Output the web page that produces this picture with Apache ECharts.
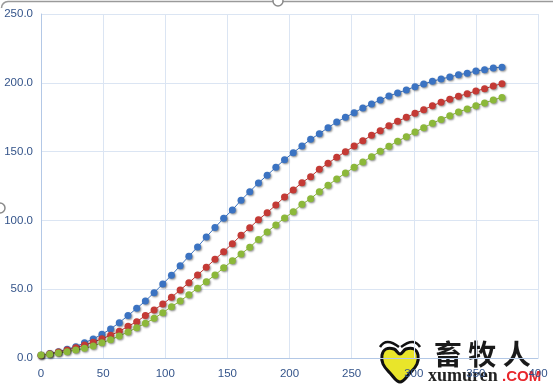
<!DOCTYPE html>
<html>
<head>
<meta charset="utf-8">
<script src="https://cdn.jsdelivr.net/npm/echarts@6/dist/echarts.min.js"></script>
<style>
html,body{margin:0;padding:0;background:#fff;}
#c{width:553px;height:389px;}
</style>
</head>
<body>
<div id="c"></div>
<script>
// x values: every 7 units from 0 to 371
const xValues = [0,7,14,21,28,35,42,49,56,63,70,77,84,91,98,105,112,119,126,133,140,147,154,161,168,175,182,189,196,203,210,217,224,231,238,245,252,259,266,273,280,287,294,301,308,315,322,329,336,343,350,357,364,371];
const blueValues = [2.0,3.2,4.6,6.3,8.2,11.1,13.8,17.2,21.1,25.7,30.8,36.1,41.4,47.5,53.8,60.1,67.1,73.9,80.7,87.9,94.8,101.5,107.6,114.6,120.9,127.2,132.8,138.6,144.1,149.2,154.1,158.9,163.0,167.4,171.5,174.9,178.3,181.7,184.6,187.5,190.4,192.6,194.8,197.2,199.1,201.1,202.8,204.2,205.9,206.9,208.6,209.5,210.8,211.3];
const redValues = [2.0,3.0,4.3,5.8,7.5,9.4,11.4,14.0,16.5,19.4,23.0,26.4,30.8,34.9,39.2,44.1,49.4,54.7,60.3,65.9,71.7,77.3,83.1,89.2,94.7,100.5,105.6,111.2,117.0,122.1,127.4,131.8,137.1,141.5,145.9,149.9,154.0,157.9,161.8,165.2,168.8,172.0,174.9,177.8,180.5,183.4,185.8,188.0,190.2,192.1,194.0,195.7,197.7,199.4];
const greenValues = [2.2,2.7,3.6,4.6,5.8,7.0,8.7,11.1,13.3,16.0,18.9,22.0,25.2,28.8,32.9,37.3,41.4,46.0,50.7,55.5,60.3,65.5,70.6,75.6,80.4,86.2,91.6,96.7,101.7,106.3,111.7,115.8,120.9,125.5,130.1,134.4,138.6,142.4,146.3,150.2,153.9,157.5,160.8,164.2,167.4,170.6,173.4,176.1,178.8,181.0,183.4,185.3,187.5,189.4];

const pair = (vals) => xValues.map((x, i) => [x, vals[i]]);

const chart = echarts.init(document.getElementById('c'), null, {renderer: 'canvas'});
const labelColor = '#34548a';
const gridColor = '#dbe5f3';

function mkSeries(vals, color) {
  return {
    type: 'line',
    data: pair(vals),
    symbol: 'circle',
    symbolSize: 7,
    lineStyle: {color: color, width: 1},
    itemStyle: {color: color, shadowBlur: 2, shadowColor: 'rgba(0,0,0,0.45)', shadowOffsetX: 1, shadowOffsetY: 1},
    animation: false
  };
}

chart.setOption({
  animation: false,
  grid: {left: 41, right: 15, top: 14, bottom: 31},
  xAxis: {
    type: 'value', min: 0, max: 400, interval: 50,
    axisLine: {show: true, lineStyle: {color: '#b3c8e6', width: 1}},
    axisTick: {show: false},
    splitLine: {show: true, lineStyle: {color: gridColor, width: 1}},
    axisLabel: {color: labelColor, fontFamily: 'Liberation Sans, Arial, sans-serif', fontSize: 11.5, margin: 10}
  },
  yAxis: {
    type: 'value', min: 0, max: 250, interval: 50,
    axisLine: {show: true, lineStyle: {color: '#b3c8e6', width: 1}},
    axisTick: {show: false},
    splitLine: {show: true, lineStyle: {color: gridColor, width: 1}},
    axisLabel: {color: labelColor, fontFamily: 'Liberation Sans, Arial, sans-serif', fontSize: 11.5, margin: 8,
      formatter: v => v.toFixed(1)}
  },
  series: [
    mkSeries(blueValues, '#3b73c2'),
    mkSeries(redValues, '#c43a35'),
    mkSeries(greenValues, '#8cb83a')
  ],
  graphic: [
    {type: 'line', shape: {x1: 8, y1: 1.5, x2: 553, y2: 1.5}, style: {stroke: '#9a9a9a', lineWidth: 1.5}, silent: true},
    {type: 'arc', shape: {cx: 8, cy: 8, r: 6.5, startAngle: Math.PI, endAngle: Math.PI*1.5}, style: {stroke: '#9a9a9a', lineWidth: 1.5, fill: null}},
    {type: 'circle', shape: {cx: 278, cy: 1, r: 5}, style: {stroke: '#8a8a8a', lineWidth: 1.5, fill: '#fff'}},
    {type: 'circle', shape: {cx: 0, cy: 208, r: 5}, style: {stroke: '#8a8a8a', lineWidth: 1.5, fill: '#fff'}},
    {type: 'polygon', shape: {points: [[400,354],[394,349],[386,349],[382,355],[383,364],[390,373],[400,382],[410,373],[417,364],[418,355],[414,349],[406,349]], smooth: 0.4},
      style: {fill: '#e9e52a', stroke: '#111', lineWidth: 3}},
    {type: 'bezierCurve', shape: {x1: 380, y1: 347, x2: 399, y2: 347, cpx1: 386, cpy1: 337}, style: {stroke: '#111', lineWidth: 2.5, fill: null}},
    {type: 'bezierCurve', shape: {x1: 401, y1: 347, x2: 420, y2: 347, cpx1: 414, cpy1: 337}, style: {stroke: '#111', lineWidth: 2.5, fill: null}},
    {type: 'text', left: 434, top: 340, style: {text: '畜 牧 人', font: 'bold 28px "Noto Sans CJK SC", sans-serif', fill: '#1a1a1a'}},
    {type: 'text', left: 428, top: 367, style: {text: 'xumuren', font: 'bold 18px "Liberation Serif", serif', fill: '#222'}},
    {type: 'text', left: 502, top: 369, style: {text: '.COM', font: 'bold 15px "Liberation Sans", sans-serif', fill: '#e8262b'}}
  ]
});
</script>
</body>
</html>
